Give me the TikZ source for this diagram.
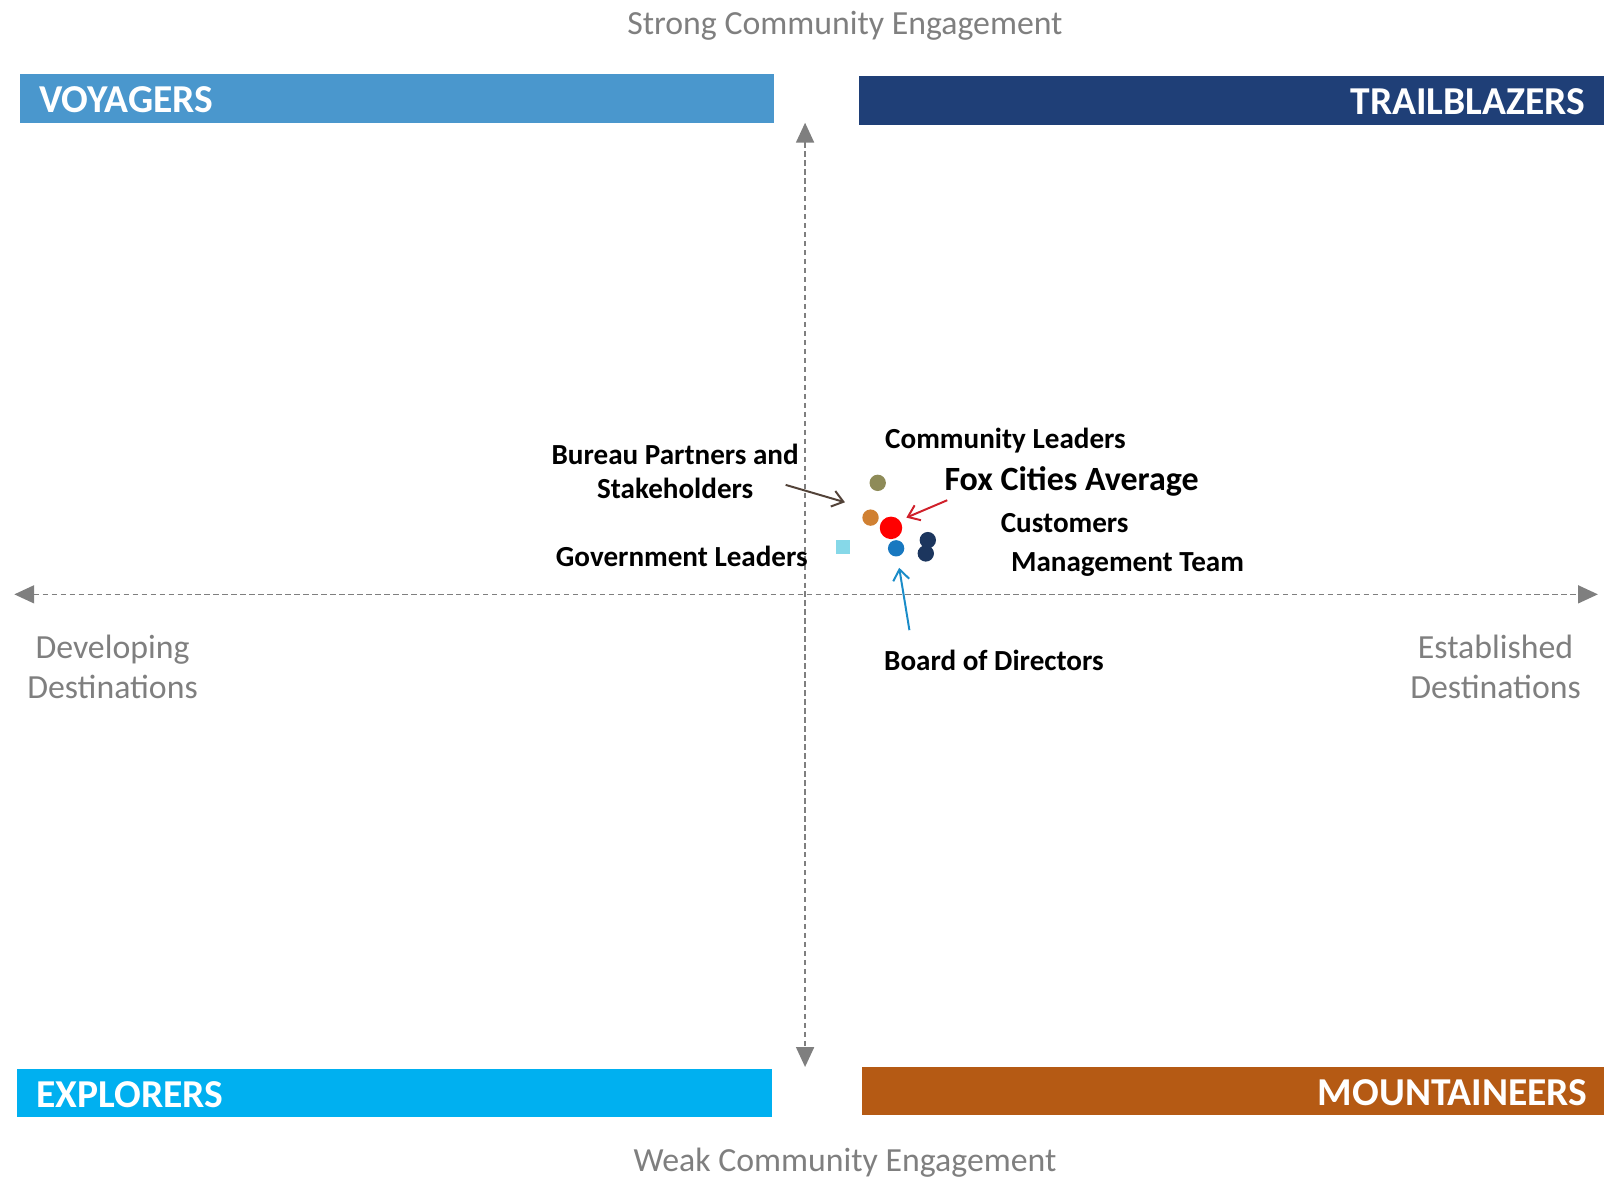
\documentclass[tikz,border=0pt]{standalone}
\usepackage{fontspec}
\setmainfont{Carlito}
\usetikzlibrary{arrows.meta}

\definecolor{voyblue}{HTML}{4A97CD}
\definecolor{trailnavy}{HTML}{1F3F77}
\definecolor{explcyan}{HTML}{00B0F0}
\definecolor{mountbrown}{HTML}{B55A14}
\definecolor{axisgray}{HTML}{7F7F7F}
\definecolor{dotolive}{HTML}{8E8B58}
\definecolor{dotorange}{HTML}{D08032}
\definecolor{dotblue}{HTML}{1878C0}
\definecolor{dotnavy}{HTML}{1C365E}
\definecolor{dotcyan}{HTML}{86D8E8}
\definecolor{arrbrown}{HTML}{524238}
\definecolor{arrred}{HTML}{D0202A}
\definecolor{arrblue}{HTML}{1A8CC8}

\begin{document}
\begin{tikzpicture}[x=0.02cm, y=-0.02cm,
    every node/.style={inner sep=0pt},
    axislabel/.style={text=axisgray, font=\fontsize{18.8}{22.5}\selectfont, align=center},
    barlabel/.style={text=white, font=\bfseries\fontsize{22}{25}\selectfont},
    grouplabel/.style={font=\bfseries\fontsize{16.2}{19.2}\selectfont, align=center}]
    \useasboundingbox (0,0) rectangle (1568,1156);

    % quadrant bars
    \fill[voyblue] (20,72) rectangle (757,120);
    \fill[trailnavy] (840,74) rectangle (1568,122);
    \fill[explcyan] (17,1045) rectangle (755,1092);
    \fill[mountbrown] (843,1043) rectangle (1568,1090);

    \node[barlabel, anchor=west] (voy) at (38,97) {VOYAGERS};
    \node[barlabel, anchor=east] (trail) at (1550,99) {TRAILBLAZERS};
    \node[barlabel, anchor=west] (expl) at (35,1070) {EXPLORERS};
    \node[barlabel, anchor=east] (mount) at (1552,1068) {MOUNTAINEERS};

    % axes
    \coordinate (N) at (787,120);
    \coordinate (S) at (787,1043);
    \coordinate (W) at (14,581);
    \coordinate (E) at (1562,581);
    \draw[axisgray, line width=0.8pt, dash pattern=on 3pt off 2pt,
          {Triangle[length=11pt,width=10pt]}-{Triangle[length=11pt,width=10pt]}] (N) -- (S);
    \draw[axisgray, line width=0.8pt, dash pattern=on 3pt off 2pt,
          {Triangle[length=11pt,width=10pt]}-{Triangle[length=11pt,width=10pt]}] (W) -- (E);

    \node[axislabel] (strong) at (826,25) {Strong Community Engagement};
    \node[axislabel] (weak) at (826,1137) {Weak Community Engagement};
    \node[axislabel] (dev) at (110,652) {Developing\\Destinations};
    \node[axislabel] (est) at (1462,652) {Established\\Destinations};

    % data points
    \node[circle, fill=dotolive, minimum size=16*0.02cm] (comm) at (858,472) {};
    \node[circle, fill=dotorange, minimum size=16*0.02cm] (bureau) at (851,506) {};
    \node[circle, fill=dotnavy, minimum size=16*0.02cm] (cust) at (907,528) {};
    \node[circle, fill=dotnavy, minimum size=16*0.02cm] (mgmt) at (905,541) {};
    \node[circle, fill=dotblue, minimum size=16*0.02cm] (board) at (876,536) {};
    \node[fill=dotcyan, minimum size=14*0.02cm] (gov) at (824,535) {};
    \node[circle, fill=red, minimum size=22*0.02cm] (avg) at (871,516) {};

    % labels
    \node[grouplabel] (bureaulbl) at (660,461) {Bureau Partners and\\Stakeholders};
    \node[grouplabel, anchor=west] (commlbl) at (865,431) {Community Leaders};
    \node[grouplabel, anchor=west, font=\bfseries\fontsize{18.9}{22}\selectfont] (avglbl) at (923,471) {Fox Cities Average};
    \node[grouplabel, anchor=west] (custlbl) at (978,511) {Customers};
    \node[grouplabel, anchor=west] (mgmtlbl) at (988,552) {Management Team};
    \node[grouplabel, anchor=east] (govlbl) at (790,544) {Government Leaders};
    \node[grouplabel, anchor=west] (boardlbl) at (864,646) {Board of Directors};

    % pointers
    \coordinate (b1) at (768,474);
    \coordinate (b2) at (826,491);
    \coordinate (r1) at (926,489);
    \coordinate (r2) at (886,506);
    \coordinate (d1) at (889,616);
    \coordinate (d2) at (879,555);
    \draw[arrbrown, line width=1.1pt, -{Straight Barb[length=6pt,width=9pt]}] (b1) -- (b2);
    \draw[arrred, line width=1.1pt, -{Straight Barb[length=6pt,width=9pt]}] (r1) -- (r2);
    \draw[arrblue, line width=1.1pt, -{Straight Barb[length=6pt,width=9pt]}] (d1) -- (d2);
\end{tikzpicture}
\end{document}
